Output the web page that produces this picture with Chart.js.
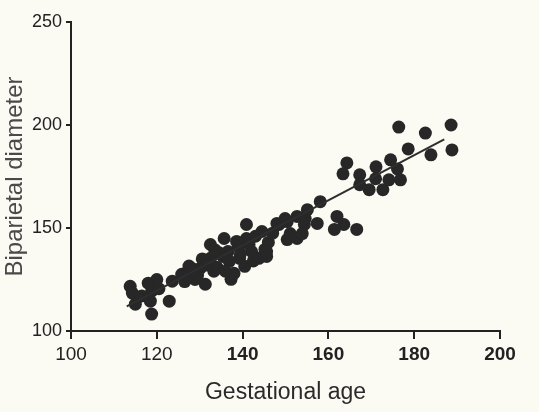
<!DOCTYPE html>
<html>
<head>
<meta charset="utf-8">
<script src="https://cdn.jsdelivr.net/npm/chart.js@4"></script>
<style>
  html, body { margin: 0; padding: 0; background: #fbfaf3; }
  #wrap { width: 539px; height: 412px; }
</style>
</head>
<body>
<div id="wrap"><canvas id="c"></canvas></div>
<script>
// Gestational age (x) and Biparietal diameter (y)
const gestAge = [
  113.8, 114.3, 115.0, 118.0, 120.0, 118.8, 118.5, 118.8, 122.9, 123.6,
  125.8, 127.2, 128.9, 130.1, 131.3, 132.5, 132.5, 133.3, 130.6, 135.7,
  136.6, 136.9, 137.3, 139.0, 140.9, 140.9, 140.5, 142.1, 143.8, 144.5,
  145.2, 148.0, 149.9, 150.4, 152.7, 154.4, 135.4, 128.2, 139.3, 145.6,
  138.6, 158.1, 155.1, 152.7, 148.5, 150.4, 151.1, 153.9, 157.4, 162.0,
  163.6, 161.4, 166.6, 154.6, 176.4, 182.6, 188.6, 178.6, 188.8, 183.9,
  164.3, 163.4, 167.3, 171.1, 174.5, 176.1, 176.8, 167.3, 169.5, 172.7,
  171.0, 174.1, 126.5, 129.5, 134.0, 138.0, 141.5, 143.0, 146.0, 134.5,
  139.5, 131.5, 120.5, 116.5, 145.6, 133.5, 136.0, 142.5, 127.5, 147.0
];
const bpd = [
  121.7, 118.4, 113.0, 123.2, 125.0, 119.3, 114.5, 108.2, 114.5, 124.2,
  127.5, 129.0, 125.0, 130.4, 122.7, 142.0, 135.3, 129.0, 135.0, 144.9,
  138.6, 133.8, 125.1, 141.1, 151.7, 144.9, 131.4, 138.6, 135.3, 148.3,
  139.6, 152.2, 154.6, 144.4, 144.9, 151.7, 136.2, 130.4, 135.3, 136.2,
  143.5, 162.8, 158.9, 155.6, 151.7, 153.1, 147.3, 147.3, 152.2, 155.6,
  151.7, 149.3, 149.3, 154.6, 199.0, 196.1, 200.0, 188.4, 187.9, 185.5,
  181.6, 176.3, 175.8, 179.7, 183.1, 178.7, 173.4, 171.0, 168.6, 168.6,
  173.9, 173.4, 124.0, 127.0, 131.0, 128.0, 142.0, 146.0, 143.0, 138.0,
  137.5, 132.0, 120.5, 117.0, 138.6, 139.5, 129.0, 134.0, 131.5, 147.5
];
// Regression line end points
const fitX = [113, 187];
const fitY = [112, 193];
// Axis ticks
const xTicks = [100, 120, 140, 160, 180, 200];
const yTicks = [100, 150, 200, 250];

const pts = gestAge.map((x, i) => ({ x: x, y: bpd[i] }));
const fit = fitX.map((x, i) => ({ x: x, y: fitY[i] }));

const bg = {
  id: 'bg',
  beforeDraw(chart) {
    const c = chart.ctx;
    c.save();
    c.fillStyle = '#fbfaf3';
    c.fillRect(0, 0, chart.width, chart.height);
    c.restore();
  }
};

new Chart(document.getElementById('c'), {
  type: 'scatter',
  data: {
    datasets: [
      {
        type: 'line',
        data: fit,
        borderColor: '#2e2e2e',
        borderWidth: 2,
        pointRadius: 0,
        fill: false
      },
      {
        data: pts,
        backgroundColor: '#272727',
        borderWidth: 0,
        pointRadius: 6.5,
        pointHoverRadius: 6.5
      }
    ]
  },
  options: {
    responsive: true,
    maintainAspectRatio: false,
    devicePixelRatio: 1,
    animation: false,
    layout: { padding: { top: 22, right: 39, left: 0, bottom: 0 } },
    plugins: { legend: { display: false }, tooltip: { enabled: false } },
    scales: {
      x: {
        type: 'linear',
        min: 100, max: 200,
        afterBuildTicks: s => { s.ticks = xTicks.map(v => ({ value: v })); },
        afterFit: s => { s.height = 81; },
        grid: { display: true, drawOnChartArea: false, drawTicks: true, tickLength: 8, color: '#222', lineWidth: 2 },
        border: { display: true, color: '#222', width: 2 },
        ticks: {
          color: '#222',
          padding: 4,
          font: ctx => ({ family: 'Liberation Sans, Arial, sans-serif', size: 19, weight: (ctx.tick && ctx.tick.value >= 140) ? 'bold' : 'normal' })
        },
        title: {
          display: true,
          text: 'Gestational age',
          color: '#2a2a2a',
          font: { family: 'Liberation Sans, Arial, sans-serif', size: 23 },
          padding: { top: 0, bottom: 6 }
        }
      },
      y: {
        type: 'linear',
        min: 100, max: 250,
        afterBuildTicks: s => { s.ticks = yTicks.map(v => ({ value: v })); },
        afterFit: s => { s.width = 71; },
        grid: { display: true, drawOnChartArea: false, drawTicks: true, tickLength: 5, color: '#222', lineWidth: 2 },
        border: { display: true, color: '#222', width: 2 },
        ticks: {
          color: '#222',
          padding: 4,
          font: { family: 'Liberation Sans, Arial, sans-serif', size: 18 }
        },
        title: {
          display: true,
          text: 'Biparietal diameter',
          color: '#4a4a4a',
          font: { family: 'Liberation Sans, Arial, sans-serif', size: 24 },
          padding: { top: 1, bottom: 0 }
        }
      }
    }
  },
  plugins: [bg]
});
</script>
</body>
</html>
